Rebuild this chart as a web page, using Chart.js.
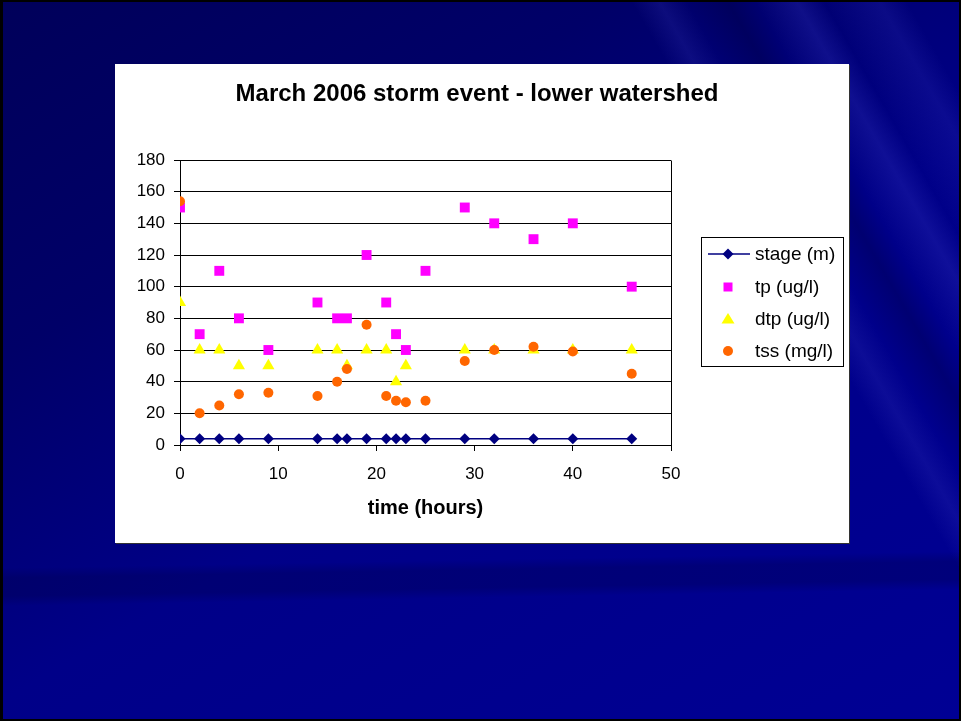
<!DOCTYPE html>
<html>
<head>
<meta charset="utf-8">
<script src="https://cdn.jsdelivr.net/npm/chart.js"></script>
<style>
  html, body { margin: 0; padding: 0; }
  body {
    width: 961px; height: 721px; overflow: hidden; position: relative;
    background:
      linear-gradient(179deg, transparent 568px, rgba(0,0,45,0.22) 578px, rgba(0,0,45,0.22) 596px, transparent 606px),
      linear-gradient(60deg, transparent 76%, rgba(70,70,200,0.18) 78%, transparent 80%, rgba(0,0,40,0.25) 83%, transparent 85%, rgba(70,70,210,0.22) 88%, transparent 90%, rgba(70,70,210,0.16) 94%, transparent 96%),
      linear-gradient(150deg, #00005a 0%, #000068 28%, #000088 55%, #000094 100%);
  }
  #frame {
    position: absolute; left: 0; top: 0; width: 961px; height: 721px;
    box-sizing: border-box; border: 2px solid #000; border-left-width: 3px;
  }
  #panel {
    position: absolute; left: 115px; top: 64px; width: 734px; height: 479px;
    background: #fff; box-shadow: 1px 1px 0 #333;
  }
</style>
</head>
<body>
<div id="frame"></div>
<div id="panel"><canvas id="chart" width="734" height="479"></canvas></div>
<script>
const chartTitle = "March 2006 storm event - lower watershed";
const xTitle = "time (hours)";

const hours = [0, 2, 4, 6, 9, 14, 16, 17, 19, 21, 22, 23, 25, 29, 32, 36, 40, 46];
const stage = [4, 4, 4, 4, 4, 4, 4, 4, 4, 4, 4, 4, 4, 4, 4, 4, 4, 4];
const tp = [150, 70, 110, 80, 60, 90, 80, 80, 120, 90, 70, 60, 110, 150, 140, 130, 140, 100];
const dtp = [90, 60, 60, 50, 50, 60, 60, 50, 60, 60, 40, 50, null, 60, 60, 60, 60, 60];
const tss = [154, 20, 25, 32, 33, 31, 40, 48, 76, 31, 28, 27, 28, 53, 60, 62, 59, 45];

const seriesNames = ["stage (m)", "tp (ug/l)", "dtp (ug/l)", "tss (mg/l)"];
const yTicks = [0, 20, 40, 60, 80, 100, 120, 140, 160, 180];
const xTicks = [0, 10, 20, 30, 40, 50];

const FONT = "Arial, 'Liberation Sans', sans-serif";

function pts(values) {
  return hours.map((h, i) => ({ x: h, y: values[i] })).filter(p => p.y !== null);
}

// marker for the legend, same look as the chart points
function drawMarker(ctx, kind, x, y) {
  ctx.save();
  ctx.beginPath();
  if (kind === "diamond") {
    ctx.fillStyle = "#000080";
    ctx.moveTo(x, y - 5.5); ctx.lineTo(x + 5.5, y); ctx.lineTo(x, y + 5.5); ctx.lineTo(x - 5.5, y);
  } else if (kind === "square") {
    ctx.fillStyle = "#ff00ff";
    ctx.rect(x - 4.5, y - 4.5, 9, 9);
  } else if (kind === "triangle") {
    ctx.fillStyle = "#ffff00";
    ctx.moveTo(x, y - 6); ctx.lineTo(x + 6.5, y + 4.5); ctx.lineTo(x - 6.5, y + 4.5);
  } else {
    ctx.fillStyle = "#ff6600";
    ctx.arc(x, y, 5, 0, Math.PI * 2);
  }
  ctx.closePath();
  ctx.fill();
  ctx.restore();
}

const extras = {
  id: "extras",
  afterDraw(chart) {
    const ctx = chart.ctx;
    const a = chart.chartArea;
    ctx.save();
    // plot border (right side)
    ctx.strokeStyle = "#000";
    ctx.lineWidth = 1;
    ctx.beginPath();
    ctx.moveTo(Math.round(a.right) + 0.5, Math.round(a.top) + 0.5);
    ctx.lineTo(Math.round(a.right) + 0.5, Math.round(a.bottom) + 0.5);
    ctx.stroke();

    // title
    ctx.fillStyle = "#000";
    ctx.textAlign = "center";
    ctx.textBaseline = "middle";
    ctx.font = "bold 24px " + FONT;
    ctx.fillText(chartTitle, 362, 30);

    // x axis title
    ctx.font = "bold 20px " + FONT;
    ctx.fillText(xTitle, (a.left + a.right) / 2, 444);

    // legend
    ctx.strokeRect(586.5, 173.5, 142, 129);
    const kinds = ["diamond", "square", "triangle", "circle"];
    const rowY = [190, 223, 255, 287];
    ctx.font = "19px " + FONT;
    ctx.textAlign = "left";
    for (let i = 0; i < seriesNames.length; i++) {
      if (i === 0) {
        ctx.strokeStyle = "#000080";
        ctx.lineWidth = 1.5;
        ctx.beginPath();
        ctx.moveTo(593, rowY[i]); ctx.lineTo(635, rowY[i]);
        ctx.stroke();
      }
      drawMarker(ctx, kinds[i], 613, rowY[i]);
      ctx.fillStyle = "#000";
      ctx.fillText(seriesNames[i], 640, rowY[i] + 1);
    }
    ctx.restore();
  }
};

new Chart(document.getElementById("chart"), {
  type: "scatter",
  data: {
    datasets: [
      {
        label: seriesNames[0], data: pts(stage), type: "line", showLine: true,
        borderColor: "#000080", borderWidth: 1.5, backgroundColor: "#000080",
        pointStyle: "rectRot", pointRadius: 5.5, pointBorderWidth: 0, order: 4
      },
      {
        label: seriesNames[1], data: pts(tp), backgroundColor: "#ff00ff",
        pointStyle: "rect", pointRadius: 7, pointBorderWidth: 0, order: 3
      },
      {
        label: seriesNames[2], data: pts(dtp), backgroundColor: "#ffff00",
        pointStyle: "triangle", pointRadius: 7, pointBorderWidth: 0, order: 2
      },
      {
        label: seriesNames[3], data: pts(tss), backgroundColor: "#ff6600",
        pointStyle: "circle", pointRadius: 5, pointBorderWidth: 0, order: 1
      }
    ]
  },
  options: {
    responsive: false,
    animation: false,
    layout: { padding: { top: 96, right: 178, left: 0, bottom: 0 } },
    plugins: { legend: { display: false }, tooltip: { enabled: false }, title: { display: false } },
    scales: {
      x: {
        type: "linear", min: 0, max: 50,
        afterFit: s => { s.height = 98; },
        afterBuildTicks: s => { s.ticks = xTicks.map(v => ({ value: v })); },
        grid: { drawOnChartArea: false, drawTicks: true, tickLength: 6, color: "#000" },
        border: { color: "#000", width: 1 },
        ticks: { color: "#000", padding: 13, font: { family: FONT, size: 17 }, maxRotation: 0 }
      },
      y: {
        type: "linear", min: 0, max: 180,
        afterFit: s => { s.width = 65; },
        afterBuildTicks: s => { s.ticks = yTicks.map(v => ({ value: v })); },
        grid: { color: "#000", lineWidth: 1, drawTicks: true, tickLength: 6 },
        border: { color: "#000", width: 1 },
        ticks: { color: "#000", padding: 9, font: { family: FONT, size: 17 } }
      }
    }
  },
  plugins: [extras]
});
</script>
</body>
</html>
